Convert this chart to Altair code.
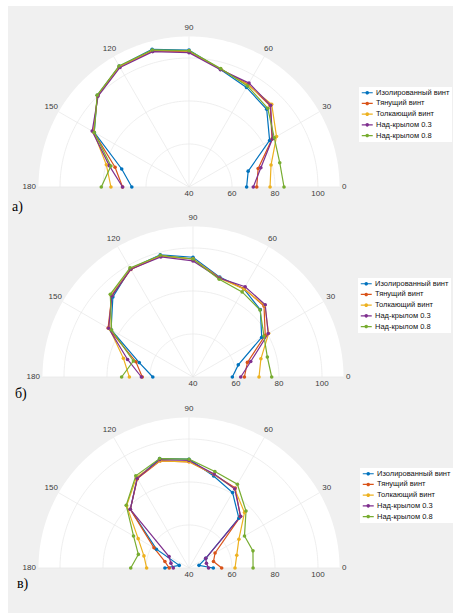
import altair as alt
import numpy as np
import pandas as pd

# ---------------------------------------------------------------- data
ANGLES = list(range(0, 181, 15))
SERIES = [
    "Изолированный винт",
    "Тянущий винт",
    "Толкающий винт",
    "Над-крылом 0.3",
    "Над-крылом 0.8",
]
COLORS = ["#0072BD", "#D95319", "#EDB120", "#7E2F8E", "#77AC30"]

# а)
A_ISOLATED = [66.8, 68.5, 83.3, 91.1, 93.5, 96.6, 103.7, 106.3, 104.9, 100.3, 90.9, 72.4, 66.6]
A_PULLER = [71.5, 73.3, 84.6, 93.4, 95.1, 96.8, 102.9, 105.5, 104.7, 100.1, 91.3, 75.6, 70.9]
A_PUSHER = [77.7, 79.5, 87.0, 94.4, 94.8, 96.8, 103.2, 105.7, 104.7, 100.2, 91.3, 79.8, 76.3]
A_WING03 = [69.9, 74.6, 84.8, 93.7, 95.8, 96.5, 102.5, 105.2, 104.2, 99.8, 92.0, 78.4, 70.9]
A_WING08 = [84.2, 83.7, 85.8, 91.8, 94.3, 97.0, 103.4, 106.0, 105.0, 100.4, 90.9, 77.6, 80.8]

# б)
B_ISOLATED = [58.3, 61.8, 76.9, 84.3, 87.3, 88.1, 95.7, 98.8, 98.2, 92.7, 84.0, 65.9, 58.7]
B_PULLER = [63.9, 66.2, 78.8, 86.7, 87.5, 87.8, 94.9, 98.3, 97.8, 93.4, 85.6, 67.5, 63.6]
B_PUSHER = [70.7, 72.7, 80.6, 87.2, 87.3, 87.6, 94.9, 98.3, 98.2, 93.8, 84.8, 73.5, 69.6]
B_WING03 = [62.2, 67.8, 80.4, 87.5, 88.5, 87.6, 94.0, 97.8, 97.9, 93.4, 85.3, 71.5, 64.0]
B_WING08 = [76.6, 75.8, 78.1, 84.1, 85.7, 87.1, 94.9, 98.6, 98.6, 94.4, 83.7, 68.7, 73.2]

# в)
C_ISOLATED = [51.3, 44.8, 49.0, 72.8, 80.5, 84.3, 90.6, 92.7, 88.2, 78.6, 57.5, 44.7, 51.2]
C_PULLER = [55.2, 51.8, 54.0, 73.8, 83.0, 85.0, 89.4, 91.6, 88.0, 78.6, 58.8, 51.6, 49.2]
C_PUSHER = [61.4, 63.0, 66.8, 76.5, 82.5, 85.0, 89.4, 91.6, 88.8, 81.0, 67.3, 61.7, 59.7]
C_WING03 = [49.1, 48.4, 49.0, 74.0, 82.5, 85.2, 90.0, 92.2, 88.2, 78.6, 50.7, 48.7, 47.3]
C_WING08 = [69.8, 70.8, 69.8, 77.5, 85.0, 86.5, 90.6, 92.7, 89.5, 81.3, 69.8, 64.4, 67.1]

PANEL_LABELS = ["а)", "б)", "в)"]
PANEL_SERIES = [
    [A_ISOLATED, A_PULLER, A_PUSHER, A_WING03, A_WING08],
    [B_ISOLATED, B_PULLER, B_PUSHER, B_WING03, B_WING08],
    [C_ISOLATED, C_PULLER, C_PUSHER, C_WING03, C_WING08],
]

R_MIN, R_MAX = 40, 110
R_RINGS = [60, 80, 100]
R_TICKS = [40, 60, 80, 100]
THETA_TICKS = list(range(0, 181, 30))

# ---------------------------------------------------------------- layout
PX_PER_UNIT = 2.15          # pixels per radial unit
VIEW_W = 445
R_LABEL = 114.0             # radius of the angle labels
R_LABEL_END = 111.2         # radius of the 0 / 180 labels
GRID = "#e6e6e6"
TXT = "#3c3c3c"
FONT = "Liberation Sans"

# per row: centre of the polar axes (x, y in the view), view height,
# legend corner, letter position
ROWS = [
    dict(cx=181, cy=181, h=210, leg=(351, 81), letter=(4, 201)),
    dict(cx=185, cy=161, h=190, leg=(350, 62), letter=(7, 178)),
    dict(cx=181, cy=162, h=207, leg=(352, 62), letter=(9, 178)),
]

ARC = np.arange(0, 180.5, 1.0)
edge_df = pd.DataFrame({"angle": ARC, "r": R_MAX})
ring_df = pd.DataFrame(
    [(rr, a) for rr in R_RINGS for a in ARC], columns=["ring", "angle"]
).assign(r=lambda d: d["ring"])
spoke_df = pd.DataFrame({"angle": THETA_TICKS, "r": R_MAX})
theta_lab_df = pd.DataFrame({"angle": THETA_TICKS, "label": [str(a) for a in THETA_TICKS]})
r_lab_df = pd.DataFrame({"r": R_TICKS, "label": [str(v) for v in R_TICKS]})

LEGEND_PATH = (
    "M-1.83,-0.2H1.83V0.2H-1.83Z"
    "M-0.6,0A0.6,0.6 0 1,1 0.6,0A0.6,0.6 0 1,1 -0.6,0Z"
)


def polar_xy(chart):
    return chart.transform_calculate(
        px=f"(datum.r - {R_MIN}) * cos(datum.angle * PI / 180)",
        py=f"(datum.r - {R_MIN}) * sin(datum.angle * PI / 180)",
        zero="0",
    )


def make_row(values, row, letter):
    xdom = [-row["cx"] / PX_PER_UNIT, (VIEW_W - row["cx"]) / PX_PER_UNIT]
    ydom = [-(row["h"] - row["cy"]) / PX_PER_UNIT, row["cy"] / PX_PER_UNIT]
    xs = alt.Scale(domain=xdom, nice=False, zero=False)
    ys = alt.Scale(domain=ydom, nice=False, zero=False)
    X = alt.X("px:Q", scale=xs, axis=None)
    Y = alt.Y("py:Q", scale=ys, axis=None)

    df = pd.DataFrame(
        [(s, a, v) for s, vals in zip(SERIES, values) for a, v in zip(ANGLES, vals)],
        columns=["series", "angle", "r"],
    )
    cscale = alt.Scale(domain=SERIES, range=COLORS)
    legend = alt.Legend(
        orient="none",
        legendX=row["leg"][0],
        legendY=row["leg"][1],
        title=None,
        symbolType=LEGEND_PATH,
        symbolSize=36,
        symbolOffset=2.5,
        symbolStrokeWidth=0,
        labelFont=FONT,
        labelFontSize=7.5,
        labelColor="#111111",
        labelOffset=5,
        rowPadding=1.7,
        padding=2,
        fillColor="white",
    )
    color = alt.Color("series:N", scale=cscale, legend=legend)

    face = polar_xy(alt.Chart(edge_df)).mark_area(color="white", opacity=1).encode(
        x=X, y=Y, y2="zero:Q"
    )
    rings = polar_xy(alt.Chart(ring_df)).mark_line(color=GRID, strokeWidth=0.7).encode(
        x=X, y=Y, detail="ring:N", order="angle:Q"
    )
    spokes = polar_xy(alt.Chart(spoke_df)).mark_rule(color=GRID, strokeWidth=0.7).encode(
        x=alt.X("zero:Q", scale=xs, axis=None),
        y=alt.Y("zero:Q", scale=ys, axis=None),
        x2="px:Q",
        y2="py:Q",
    )
    lines = polar_xy(alt.Chart(df)).mark_line(strokeWidth=1.2).encode(
        x=X, y=Y, color=color, order="angle:Q"
    )
    dots = polar_xy(alt.Chart(df)).mark_circle(size=13, opacity=1).encode(
        x=X, y=Y, color=color
    )

    lab = alt.Chart(theta_lab_df).transform_calculate(
        rl=f"(datum.angle == 0 || datum.angle == 180) ? {R_LABEL_END} : {R_LABEL}",
        px=f"(datum.rl - {R_MIN}) * cos(datum.angle * PI / 180)",
        py=f"(datum.rl - {R_MIN}) * sin(datum.angle * PI / 180)",
    )
    tstyle = dict(font=FONT, fontSize=8, color=TXT, baseline="middle")
    lab_mid = lab.transform_filter("datum.angle > 0 && datum.angle < 180").mark_text(
        align="center", **tstyle
    ).encode(x=X, y=Y, text="label:N")
    lab_0 = lab.transform_filter("datum.angle == 0").mark_text(align="left", **tstyle).encode(
        x=X, y=Y, text="label:N"
    )
    lab_180 = lab.transform_filter("datum.angle == 180").mark_text(
        align="right", **tstyle
    ).encode(x=X, y=Y, text="label:N")

    rlab = alt.Chart(r_lab_df).transform_calculate(
        px=f"datum.r - {R_MIN}", py="0"
    ).mark_text(align="center", dy=7, **tstyle).encode(x=X, y=Y, text="label:N")

    tag = alt.Chart(pd.DataFrame({"t": [letter]})).mark_text(
        font="Liberation Serif", fontSize=14, color="#000000", align="left", baseline="middle"
    ).encode(text="t:N", x=alt.value(row["letter"][0]), y=alt.value(row["letter"][1]))

    return alt.layer(
        face, rings, spokes, lines, dots, lab_mid, lab_0, lab_180, rlab, tag
    ).properties(width=VIEW_W, height=row["h"])


rows = [make_row(v, r, l) for v, r, l in zip(PANEL_SERIES, ROWS, PANEL_LABELS)]

chart = (
    alt.vconcat(*rows, spacing=0, bounds="flush")
    .resolve_scale(x="independent", y="independent", color="independent")
    .resolve_legend(color="independent")
    .properties(background="white", padding={"left": 8, "top": 6, "right": 0, "bottom": 0})
    .configure_view(fill="#f0f0f0", stroke=None)
)

chart.save("out.html", embed_options={"renderer": "svg", "actions": False})
